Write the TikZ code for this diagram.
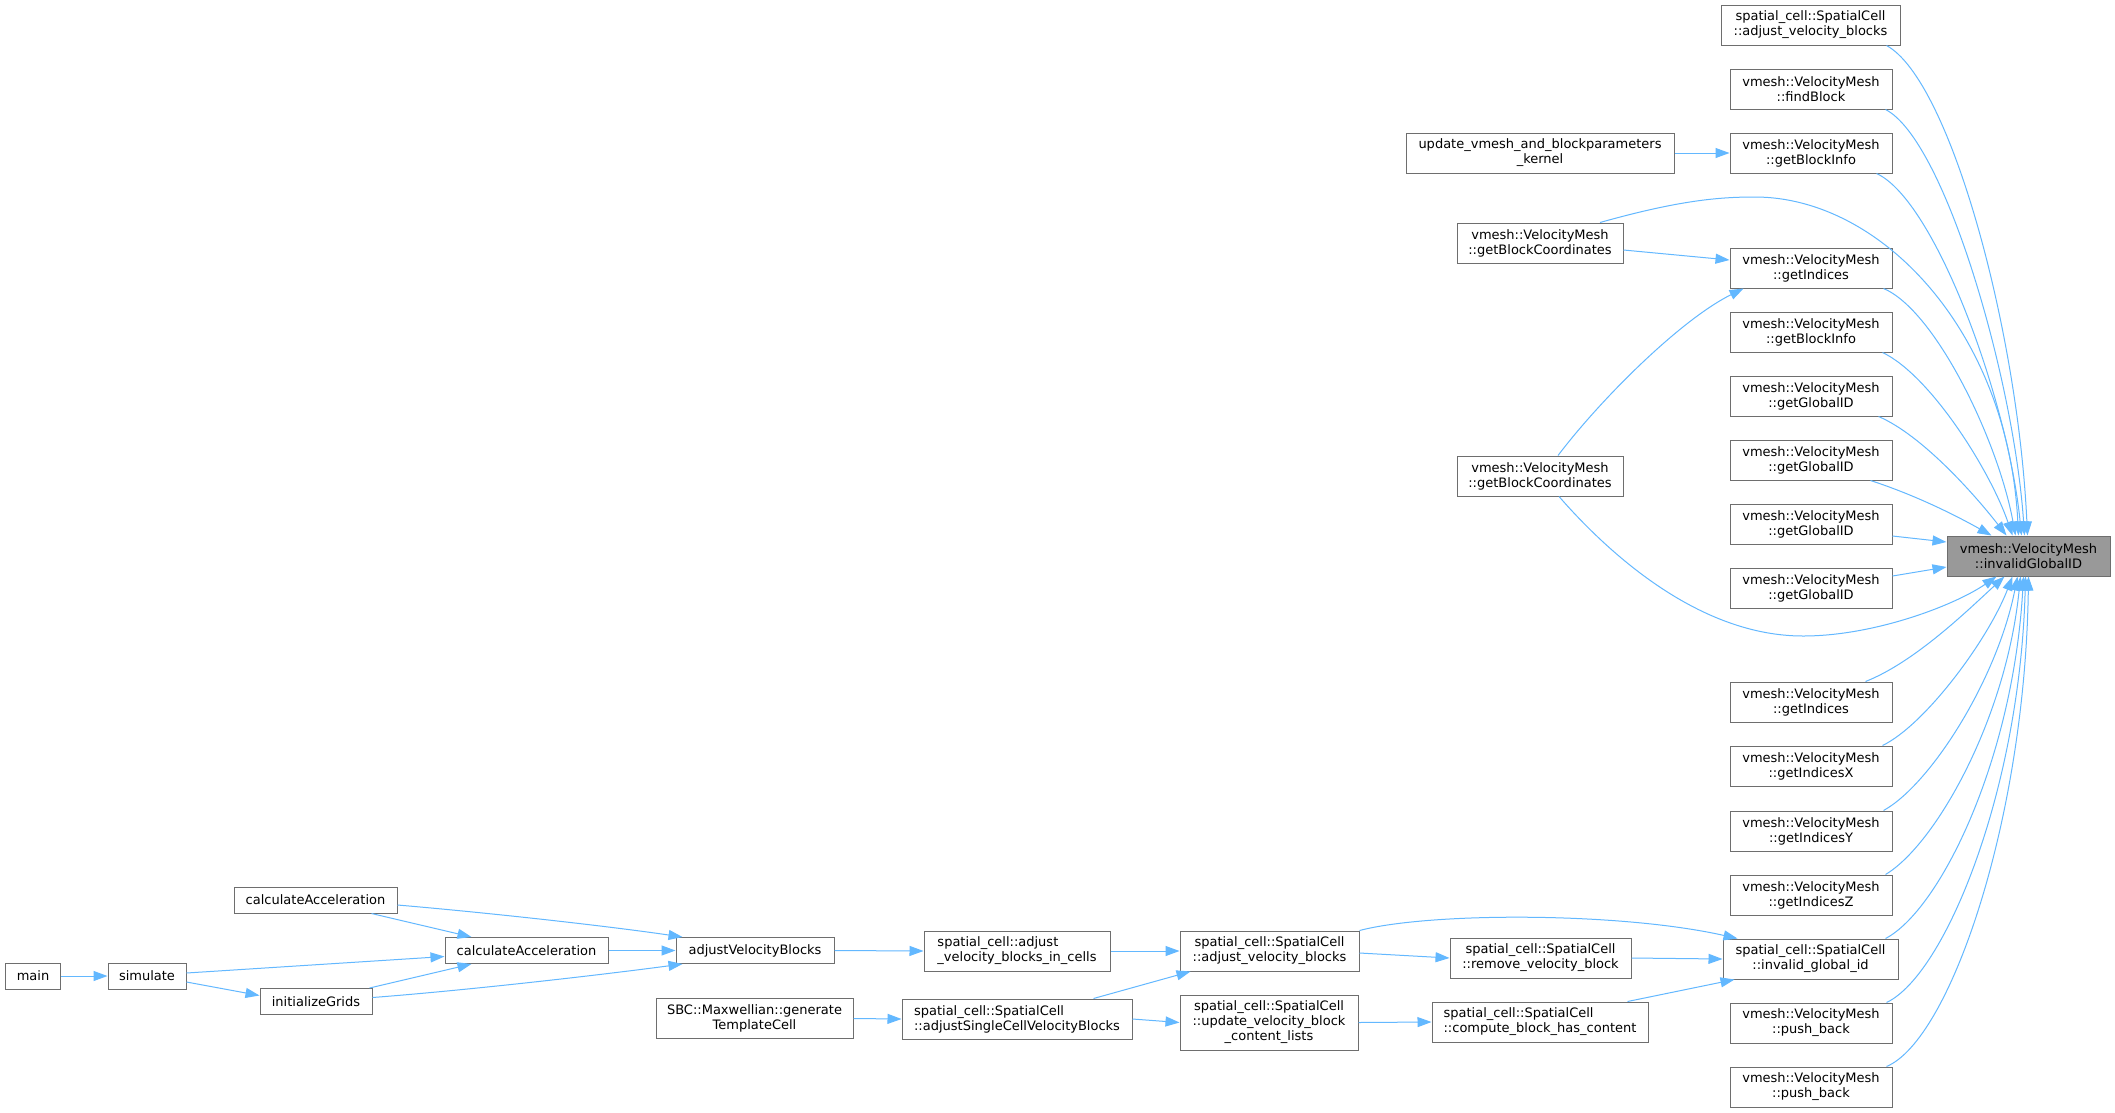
\documentclass[tikz,border=0pt]{standalone}
\usepackage{fontspec}
\setmainfont{DejaVu Sans}
\usetikzlibrary{arrows.meta,calc}
\definecolor{edgeblue}{HTML}{63B8FF}
\definecolor{boxgray}{HTML}{6E6E6E}
\definecolor{mainfill}{HTML}{999999}
\tikzset{
  fn/.style={draw=boxgray, line width=1pt, fill=white, inner sep=0pt, align=center,
    font=\fontsize{13}{15}\selectfont, minimum height=40pt},
  fnone/.style={fn, minimum height=26pt},
  vm/.style={fn, minimum width=162pt},
  call/.style={draw=edgeblue, line width=1pt, -{Triangle[length=14pt,width=10pt]}},
}
\begin{document}
\begin{tikzpicture}[x=1pt,y=-1pt]
\useasboundingbox (0,0) rectangle (2115,1112);
\fill[white] (0,0) rectangle (2115,1112);

% target
\node[fn, minimum width=163pt, fill=mainfill] (inv) at (2028.5,556) {vmesh::VelocityMesh\\::invalidGlobalID};

% right column
\node[fn, minimum width=179pt] (avbTop) at (1810.5,25) {spatial\_cell::SpatialCell\\::adjust\_velocity\_blocks};
\node[vm] (findBlock) at (1811,89) {vmesh::VelocityMesh\\::findBlock};
\node[vm] (gbi1) at (1811,153) {vmesh::VelocityMesh\\::getBlockInfo};
\node[vm] (gi1) at (1811,268) {vmesh::VelocityMesh\\::getIndices};
\node[vm] (gbi2) at (1811,332) {vmesh::VelocityMesh\\::getBlockInfo};
\node[vm] (gg1) at (1811,396) {vmesh::VelocityMesh\\::getGlobalID};
\node[vm] (gg2) at (1811,460) {vmesh::VelocityMesh\\::getGlobalID};
\node[vm] (gg3) at (1811,524) {vmesh::VelocityMesh\\::getGlobalID};
\node[vm] (gg4) at (1811,588) {vmesh::VelocityMesh\\::getGlobalID};
\node[vm] (gi2) at (1811,702) {vmesh::VelocityMesh\\::getIndices};
\node[vm] (gix) at (1811,766) {vmesh::VelocityMesh\\::getIndicesX};
\node[vm] (giy) at (1811,831) {vmesh::VelocityMesh\\::getIndicesY};
\node[vm] (giz) at (1811,895) {vmesh::VelocityMesh\\::getIndicesZ};
\node[fn, minimum width=175pt] (igid) at (1810.5,959) {spatial\_cell::SpatialCell\\::invalid\_global\_id};
\node[vm] (pb1) at (1811,1023) {vmesh::VelocityMesh\\::push\_back};
\node[vm] (pb2) at (1811,1087) {vmesh::VelocityMesh\\::push\_back};

% second column
\node[fn, minimum width=268pt] (kernel) at (1540,153) {update\_vmesh\_and\_blockparameters\\\_kernel};
\node[fn, minimum width=166pt] (gbc1) at (1540,243) {vmesh::VelocityMesh\\::getBlockCoordinates};
\node[fn, minimum width=166pt] (gbc2) at (1540,476) {vmesh::VelocityMesh\\::getBlockCoordinates};
\node[fn, minimum width=181pt] (rvb) at (1540.5,958) {spatial\_cell::SpatialCell\\::remove\_velocity\_block};
\node[fn, minimum width=216pt, align=left] (cbhc) at (1540,1022) {spatial\_cell::SpatialCell\\::compute\_block\_has\_content};

% third column
\node[fn, minimum width=179pt] (avbMid) at (1269.5,951) {spatial\_cell::SpatialCell\\::adjust\_velocity\_blocks};
\node[fn, minimum width=178pt, minimum height=55pt] (uvbcl) at (1269,1022.5) {spatial\_cell::SpatialCell\\::update\_velocity\_block\\\_content\_lists};

% fourth column
\node[fn, minimum width=186pt, align=left] (avbic) at (1017,951) {spatial\_cell::adjust\\\_velocity\_blocks\_in\_cells};
\node[fn, minimum width=230pt, align=left] (ascvb) at (1017,1019) {spatial\_cell::SpatialCell\\::adjustSingleCellVelocityBlocks};

% fifth column
\node[fnone, minimum width=158pt] (avb) at (755,950.5) {adjustVelocityBlocks};
\node[fn, minimum width=197pt] (sbc) at (754.5,1018.5) {SBC::Maxwellian::generate\\TemplateCell};

% left part
\node[fnone, minimum width=163pt] (ca2) at (526.5,950.5) {calculateAcceleration};
\node[fnone, minimum width=163pt] (ca1) at (315.5,900) {calculateAcceleration};
\node[fnone, minimum width=112pt] (ig) at (316,1001.5) {initializeGrids};
\node[fnone, minimum width=78pt] (sim) at (147,976) {simulate};
\node[fnone, minimum width=55pt] (main) at (33,976) {main};

% edges into invalidGlobalID (from above)
\draw[call] ($(avbTop.south east)+(-14,0)$) .. controls (1950,80) and (2018,330) .. ($(inv.north west)+(81,0)$);
\draw[call] ($(findBlock.south east)+(-7,0)$) .. controls (1945,140) and (2014,380) .. ($(inv.north west)+(78,0)$);
\draw[call] ($(gbi1.south east)+(-16,0)$) .. controls (1935,200) and (2008,400) .. ($(inv.north west)+(75,0)$);
\draw[call] ($(gbc1.north)+(60,0)$) .. controls (1680,200) and (1720,197) .. (1755,197) .. controls (1880,197) and (2008,330) .. ($(inv.north west)+(72,0)$);
\draw[call] ($(gi1.south east)+(-9,0)$) .. controls (1935,310) and (1998,440) .. ($(inv.north west)+(69,0)$);
\draw[call] ($(gbi2.south east)+(-10,0)$) .. controls (1930,375) and (1990,470) .. ($(inv.north west)+(66,0)$);
\draw[call] ($(gg1.south east)+(-14,0)$) .. controls (1922,435) and (1975,495) .. ($(inv.north west)+(60,0)$);
\draw[call] ($(gg2.south east)+(-22,0)$) .. controls (1915,495) and (1955,515) .. ($(inv.north west)+(45,0)$);
\draw[call] ($(gg3.east)+(0,12)$) -- ($(inv.west)+(0,-14)$);
\draw[call] ($(gg4.east)+(0,-12)$) -- ($(inv.west)+(0,11)$);

% edges into invalidGlobalID (from below)
\draw[call] ($(gbc2.south)+(19,0)$) .. controls (1610,555) and (1700,636) .. (1803,636) .. controls (1875,636) and (1955,605) .. ($(inv.south west)+(50,0)$);
\draw[call] ($(gi2.north east)+(-27,0)$) .. controls (1915,662) and (1968,610) .. ($(inv.south west)+(58,0)$);
\draw[call] ($(gix.north east)+(-10,0)$) .. controls (1925,725) and (1988,640) .. ($(inv.south west)+(66,0)$);
\draw[call] ($(giy.north east)+(-9,0)$) .. controls (1930,785) and (1997,680) .. ($(inv.south west)+(71,0)$);
\draw[call] ($(giz.north east)+(-7,0)$) .. controls (1935,845) and (2006,720) .. ($(inv.south west)+(74,0)$);
\draw[call] ($(igid.north east)+(-13,0)$) .. controls (1940,910) and (2013,760) .. ($(inv.south west)+(77,0)$);
\draw[call] ($(pb1.north east)+(-6,0)$) .. controls (1945,975) and (2020,790) .. ($(inv.south west)+(79,0)$);
\draw[call] ($(pb2.north east)+(-6,0)$) .. controls (1950,1040) and (2025,820) .. ($(inv.south west)+(82,0)$);

% upper left edges
\draw[call] (kernel.east) -- (gbi1.west);
\draw[call] ($(gbc1.east)+(0,7)$) -- ($(gi1.west)+(0,-8)$);
\draw[call] ($(gbc2.north)+(18,0)$) .. controls (1600,400) and (1680,320) .. ($(gi1.south west)+(14,0)$);

% bottom edges
\draw[call] (main.east) -- (sim.west);
\draw[call] ($(sim.east)+(0,-3)$) -- ($(ca2.west)+(0,6)$);
\draw[call] ($(sim.east)+(0,6)$) -- ($(ig.west)+(0,-6)$);
\draw[call] ($(ig.north east)+(-3,0)$) -- ($(ca2.south west)+(27,0)$);
\draw[call] ($(ig.east)+(0,-4)$) .. controls (470,990) and (600,975) .. ($(avb.south west)+(7,0)$);
\draw[call] ($(ca1.south east)+(-26,0)$) -- ($(ca2.north west)+(27,0)$);
\draw[call] ($(ca1.east)+(0,5)$) .. controls (480,912) and (600,925) .. ($(avb.north west)+(7,0)$);
\draw[call] (ca2.east) -- (avb.west);
\draw[call] (avb.east) -- (avbic.west);
\draw[call] (avbic.east) -- (avbMid.west);
\draw[call] (avbMid.north east) .. controls (1430,912) and (1620,912) .. ($(igid.north west)+(15,0)$);
\draw[call] ($(avbMid.east)+(0,2)$) -- (rvb.west);
\draw[call] (rvb.east) -- (igid.west);
\draw[call] ($(cbhc.north east)+(-21,0)$) -- ($(igid.south west)+(12,0)$);
\draw[call] (uvbcl.east) -- (cbhc.west);
\draw[call] ($(ascvb.north east)+(-39,0)$) -- ($(avbMid.south west)+(11,0)$);
\draw[call] (ascvb.east) -- (uvbcl.west);
\draw[call] (sbc.east) -- (ascvb.west);
\end{tikzpicture}
\end{document}
